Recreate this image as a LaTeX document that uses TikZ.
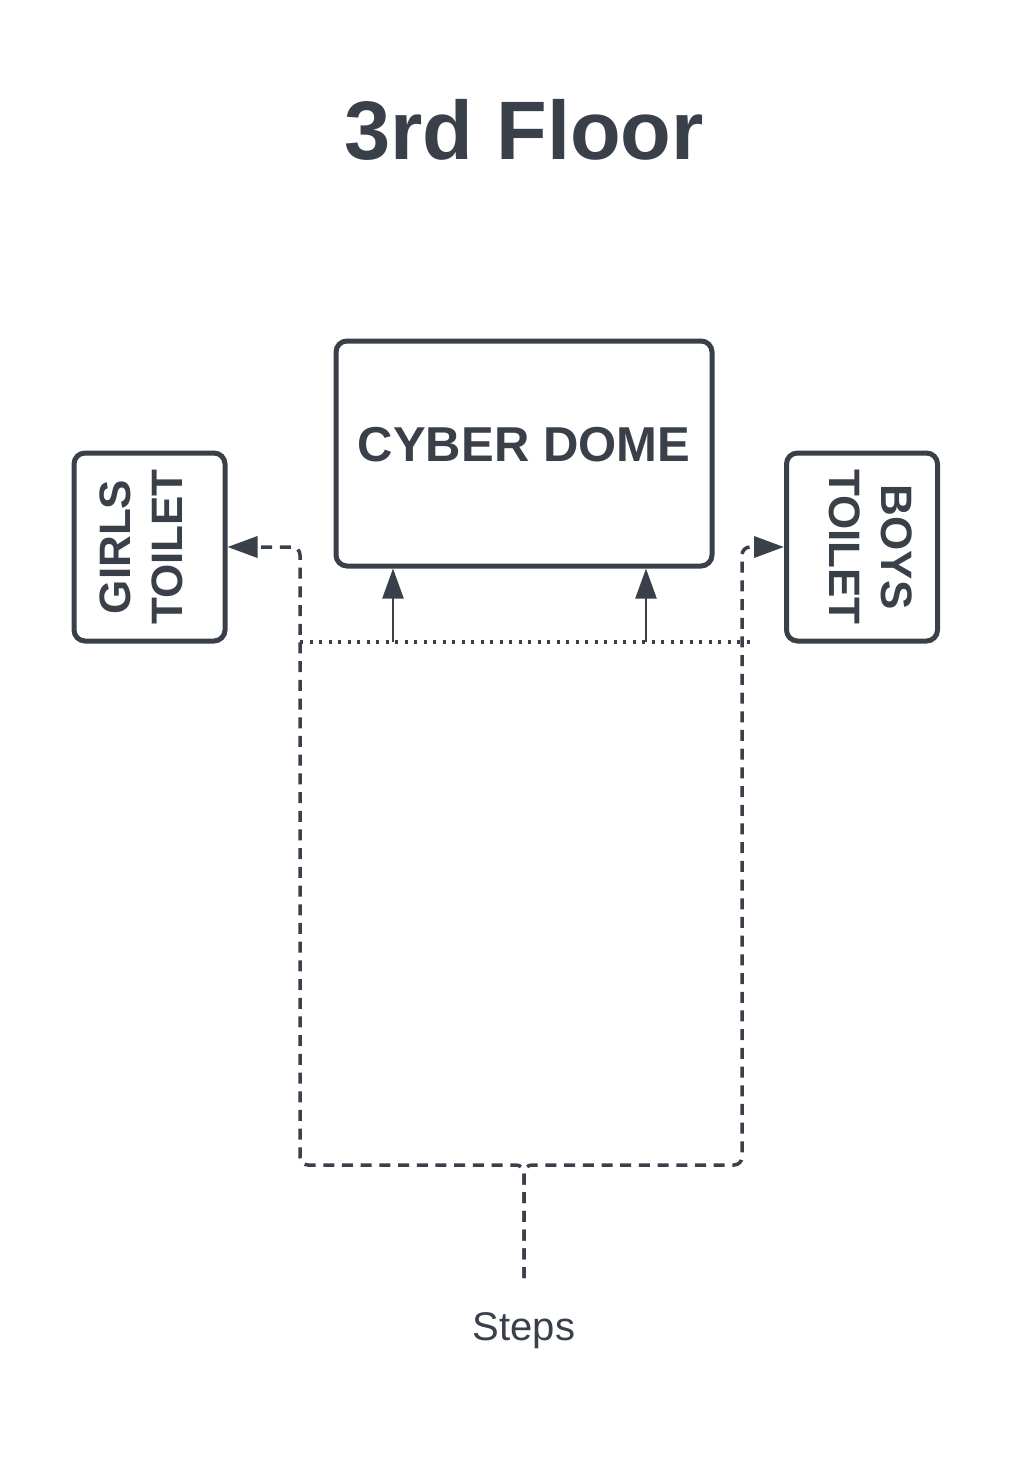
\documentclass[tikz,border=0pt]{standalone}
\usepackage{fontspec}
\setmainfont{Liberation Sans}
\usetikzlibrary{arrows.meta}
\definecolor{ink}{RGB}{58,64,74}
\begin{document}
\begin{tikzpicture}[x=1pt,y=-1pt,
  room/.style={draw=ink,line width=5pt,rounded corners=11pt,inner sep=0pt},
  walk/.style={draw=ink,line width=3.5pt,dash pattern=on 11pt off 7.7pt,rounded corners=8pt},
  dotline/.style={draw=ink,line width=3.5pt,dash pattern=on 3pt off 6.5pt},
  bigtip/.style={-{Triangle[length=30pt,width=21pt]}},
  lbl/.style={text=ink,inner sep=0pt}]
\useasboundingbox (0,0) rectangle (1013,1466);
\fill[white] (0,0) rectangle (1013,1466);

\node[lbl,font=\bfseries\fontsize{83}{90}\selectfont] (title) at (524,130) {3rd Floor};

\node[room,minimum width=376pt,minimum height=225pt] (cyber) at (524,453.5) {};
\node[lbl,font=\bfseries\fontsize{49}{56}\selectfont] (cyberlbl) at (524,445) {CYBER DOME};

\node[room,minimum width=151pt,minimum height=188pt] (girls) at (149.5,547) {};
\node[lbl,font=\bfseries\fontsize{44}{52}\selectfont] (girlslbl) at (146,547)
  {\rotatebox{90}{\begin{tabular}{@{}c@{}}GIRLS\\TOILET\end{tabular}}};

\node[room,minimum width=151pt,minimum height=188pt] (boys) at (862,547) {};
\node[lbl,font=\bfseries\fontsize{44}{52}\selectfont] (boyslbl) at (866,547)
  {\rotatebox{-90}{\begin{tabular}{@{}c@{}}BOYS\\TOILET\end{tabular}}};

\node[lbl,font=\fontsize{40}{48}\selectfont] (steps) at (524,1331) {Steps};
\coordinate (stepsend) at (524,1278);
\coordinate (dl) at (300,642);
\coordinate (dr) at (750,642);
\coordinate (a1) at (393,642);
\coordinate (a2) at (646,642);

\draw[walk,bigtip] (stepsend) -- (524,1165) -- (300,1165) -- (300,547) -- (girls.east);
\draw[walk,bigtip] (stepsend) -- (524,1165) -- (742,1165) -- (742,547) -- (boys.west);

\draw[dotline] (dl) -- (dr);
\draw[draw=ink,line width=2.2pt,bigtip] (a1) -- (a1 |- cyber.south);
\draw[draw=ink,line width=2.2pt,bigtip] (a2) -- (a2 |- cyber.south);
\end{tikzpicture}
\end{document}
